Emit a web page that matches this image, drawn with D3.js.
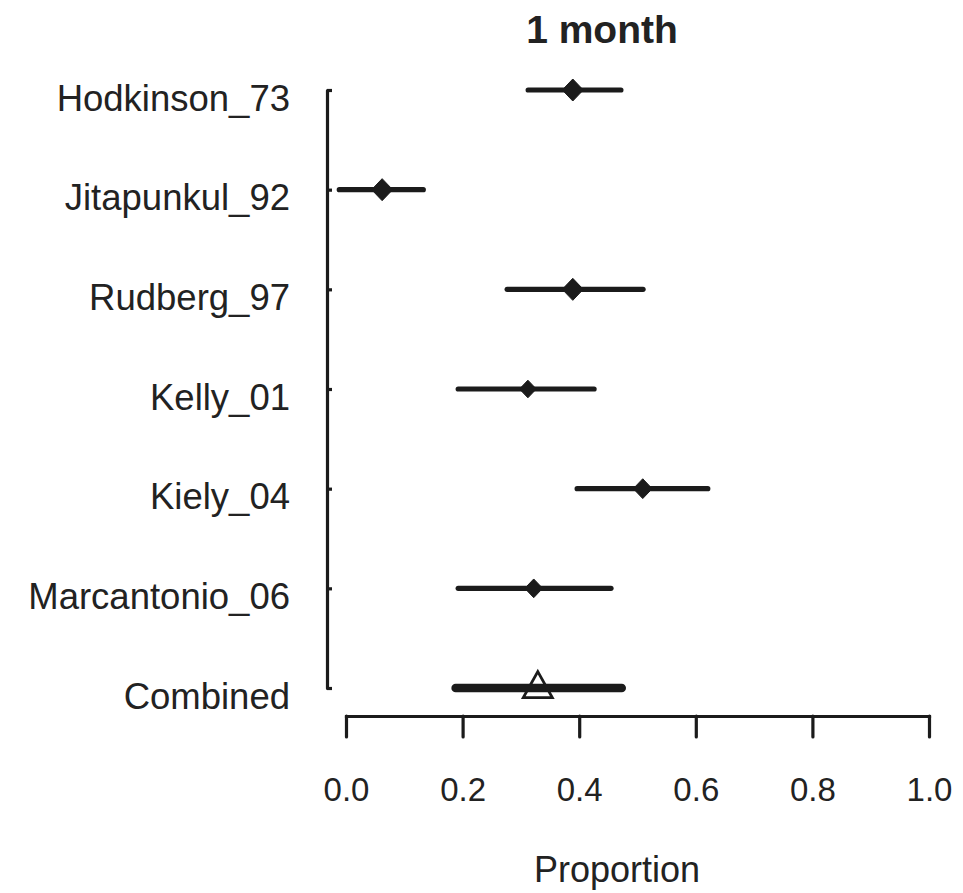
<!DOCTYPE html>
<html>
<head>
<meta charset="utf-8">
<script src="https://cdn.jsdelivr.net/npm/d3@7"></script>
<style>
  html, body { margin: 0; padding: 0; background: #fff; }
  svg { display: block; }
  text { font-family: "Liberation Sans", Arial, Helvetica, sans-serif; fill: #222; }
</style>
</head>
<body>
<svg id="chart" width="963" height="893"></svg>
<script>
// ---- data ----
const studies = ["Hodkinson_73", "Jitapunkul_92", "Rudberg_97", "Kelly_01", "Kiely_04", "Marcantonio_06", "Combined"];
const estimate = [0.389, 0.062, 0.389, 0.312, 0.509, 0.322, 0.329];
const lower    = [0.309, -0.015, 0.273, 0.189, 0.393, 0.189, 0.182];
const upper    = [0.475, 0.136, 0.513, 0.429, 0.624, 0.458, 0.479];
const weight   = [1.0, 1.0, 1.0, 0.8, 0.9, 0.85, null];   // relative marker size
const xTicks   = [0.0, 0.2, 0.4, 0.6, 0.8, 1.0];
const xTickLabels = ["0.0", "0.2", "0.4", "0.6", "0.8", "1.0"];
const title = "1 month";
const xLabel = "Proportion";

// ---- layout ----
const svg = d3.select("#chart");
const ink = "#1b1b1b";

const x = d3.scaleLinear().domain([0, 1]).range([346, 929]);
const y = d3.scalePoint().domain(studies).range([90, 688]);

// x axis
const xAxis = d3.axisBottom(x)
  .tickValues(xTicks)
  .tickFormat((d, i) => xTickLabels[i])
  .tickSize(21)
  .tickSizeOuter(0)
  .tickPadding(41);
const gx = svg.append("g").attr("transform", "translate(0,716)").call(xAxis);
gx.select(".domain").attr("stroke", ink).attr("stroke-width", 3.2).attr("stroke-linecap", "square");
gx.selectAll(".tick line").attr("stroke", ink).attr("stroke-width", 3.2).attr("stroke-linecap", "round");
gx.selectAll(".tick text").attr("font-size", 33).attr("fill", "#222")
  .attr("font-family", '"Liberation Sans", Arial, sans-serif');

// y axis
const yAxis = d3.axisLeft(y)
  .tickSize(-5)
  .tickSizeOuter(-5)
  .tickPadding(37);
const gy = svg.append("g").attr("transform", "translate(327,0)").call(yAxis);
gy.select(".domain").attr("stroke", ink).attr("stroke-width", 3.2).attr("fill", "none").attr("stroke-linejoin", "round");
gy.selectAll(".tick line").attr("stroke", ink).attr("stroke-width", 3.2);
gy.selectAll(".tick text").attr("font-size", 36.5).attr("dy", "0.55em").attr("fill", "#222")
  .attr("font-family", '"Liberation Sans", Arial, sans-serif');

// CI lines
const rows = studies.map((s, i) => ({ s, est: estimate[i], lo: lower[i], hi: upper[i], w: weight[i], combined: s === "Combined" }));

svg.append("g").selectAll("line.ci").data(rows).join("line")
  .attr("class", "ci")
  .attr("x1", d => x(d.lo) + (d.combined ? 3.5 : 2))
  .attr("x2", d => x(d.hi) - (d.combined ? 3.5 : 2))
  .attr("y1", d => y(d.s))
  .attr("y2", d => y(d.s))
  .attr("stroke", ink)
  .attr("stroke-width", d => d.combined ? 8.5 : 5.2)
  .attr("stroke-linecap", "round");

// diamonds for studies
const diamond = (cx, cy, hw, hh) => {
  const p = d3.path();
  p.moveTo(cx, cy - hh); p.lineTo(cx + hw, cy); p.lineTo(cx, cy + hh); p.lineTo(cx - hw, cy); p.closePath();
  return p.toString();
};
svg.append("g").selectAll("path.pt").data(rows.filter(d => !d.combined)).join("path")
  .attr("class", "pt")
  .attr("d", d => diamond(x(d.est), y(d.s), 10.5 * d.w, 11 * d.w))
  .attr("fill", ink)
  .attr("stroke", ink)
  .attr("stroke-width", 1)
  .attr("stroke-linejoin", "round");

// open triangle for combined
const tri = (cx, cy, hw, h) => {
  const p = d3.path();
  p.moveTo(cx, cy - h * 2 / 3); p.lineTo(cx + hw, cy + h / 3); p.lineTo(cx - hw, cy + h / 3); p.closePath();
  return p.toString();
};
svg.append("g").selectAll("path.comb").data(rows.filter(d => d.combined)).join("path")
  .attr("class", "comb")
  .attr("d", d => tri(x(d.est), y(d.s) + 1, 14.5, 26))
  .attr("fill", "none")
  .attr("stroke", ink)
  .attr("stroke-width", 2.8)
  .attr("stroke-linejoin", "miter");

// title & x label
svg.append("text").attr("x", 602).attr("y", 43).attr("text-anchor", "middle")
  .attr("font-size", 39).attr("font-weight", "bold").attr("fill", "#1a1a1a").text(title);
svg.append("text").attr("x", 617).attr("y", 882).attr("text-anchor", "middle")
  .attr("font-size", 36).text(xLabel);
</script>
</body>
</html>
